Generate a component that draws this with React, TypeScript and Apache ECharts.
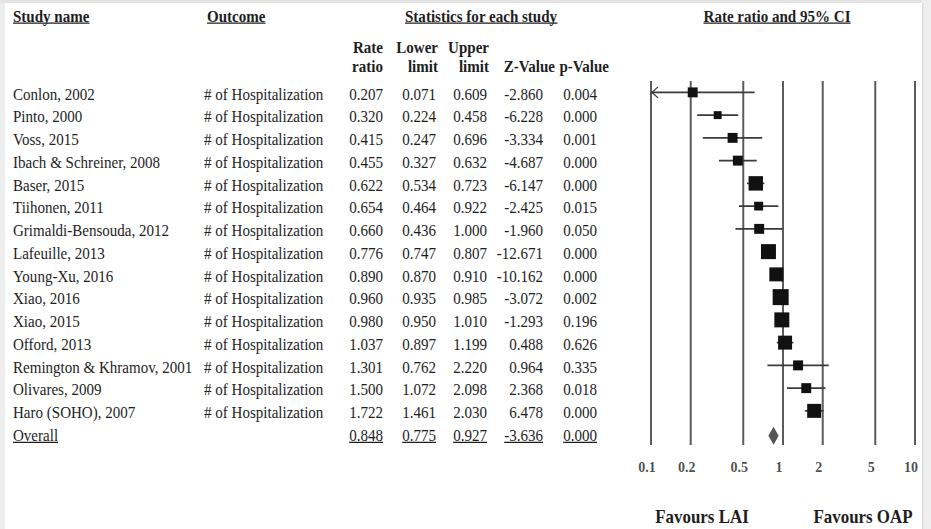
import React, { useEffect, useRef } from "react";
import * as echarts from "echarts";

// Forest plot: rate ratio of hospitalization, LAI vs OAP
const studies = [
  "Conlon, 2002",
  "Pinto, 2000",
  "Voss, 2015",
  "Ibach & Schreiner, 2008",
  "Baser, 2015",
  "Tiihonen, 2011",
  "Grimaldi-Bensouda, 2012",
  "Lafeuille, 2013",
  "Young-Xu, 2016",
  "Xiao, 2016",
  "Xiao, 2015",
  "Offord, 2013",
  "Remington & Khramov, 2001",
  "Olivares, 2009",
  "Haro (SOHO), 2007",
];
const outcome = "# of Hospitalization";
const rateRatio = [0.207, 0.32, 0.415, 0.455, 0.622, 0.654, 0.66, 0.776, 0.89, 0.96, 0.98, 1.037, 1.301, 1.5, 1.722];
const lowerLimit = [0.071, 0.224, 0.247, 0.327, 0.534, 0.464, 0.436, 0.747, 0.87, 0.935, 0.95, 0.897, 0.762, 1.072, 1.461];
const upperLimit = [0.609, 0.458, 0.696, 0.632, 0.723, 0.922, 1.0, 0.807, 0.91, 0.985, 1.01, 1.199, 2.22, 2.098, 2.03];
const zValue = [-2.86, -6.228, -3.334, -4.687, -6.147, -2.425, -1.96, -12.671, -10.162, -3.072, -1.293, 0.488, 0.964, 2.368, 6.478];
const pValue = [0.004, 0.0, 0.001, 0.0, 0.0, 0.015, 0.05, 0.0, 0.0, 0.002, 0.196, 0.626, 0.335, 0.018, 0.0];
// relative study weights (%), square area is proportional to weight
const weights = [4.4, 2.8, 4.4, 4.4, 9.3, 3.6, 4.4, 10.0, 8.7, 11.4, 10.0, 8.7, 4.4, 4.4, 8.7];
const overallLabel = "Overall";
const overallRate = 0.848;
const overallLower = 0.775;
const overallUpper = 0.927;
const overallZ = -3.636;
const overallP = 0.0;
const tickValues = [0.1, 0.2, 0.5, 1, 2, 5, 10];
const tickLabels = ["0.1", "0.2", "0.5", "1", "2", "5", "10"];

const FONT = "'Liberation Serif', 'Times New Roman', serif";
const INK = "#1e1e1e";
// the table typeface is set slightly condensed
const CONDENSE = 0.94;

function measure(text: string, size: number, weight: string) {
  const ctx = document.createElement("canvas").getContext("2d")!;
  ctx.font = `${weight} ${size}px ${FONT}`;
  return ctx.measureText(text).width;
}

type TextOpts = { align?: string; bold?: boolean; size?: number; underline?: boolean };

function textEl(text: string, x: number, y: number, o: TextOpts = {}) {
  const size = o.size ?? 16;
  const weight = o.bold ? "bold" : "normal";
  const align = o.align ?? "left";
  const els: any[] = [
    {
      type: "text",
      x,
      y,
      scaleX: CONDENSE,
      silent: true,
      style: {
        text,
        fill: INK,
        fontFamily: FONT,
        fontSize: size,
        fontWeight: weight,
        align,
        verticalAlign: "middle",
      },
    },
  ];
  if (o.underline) {
    const w = measure(text, size, weight) * CONDENSE;
    const x1 = align === "right" ? x - w : align === "center" ? x - w / 2 : x;
    const uy = y + size * 0.45;
    els.push({
      type: "line",
      silent: true,
      shape: { x1, y1: uy, x2: x1 + w, y2: uy },
      style: { stroke: INK, lineWidth: 1.2 },
    });
  }
  return els;
}

export default function App() {
  const ref = useRef<HTMLDivElement>(null);

  useEffect(() => {
    const chart = echarts.init(ref.current!, null, { renderer: "svg" });
    const rowNames = [...studies, overallLabel];
    const overallRow = studies.length;

    chart.setOption({
      animation: false,
      backgroundColor: "#ffffff",
      grid: [
        { left: 651, right: 16, top: 81, height: 364 },
        { left: 651, right: 16, top: 458, height: 18 },
      ],
      xAxis: [
        { type: "log", gridIndex: 0, logBase: 10, min: 0.1, max: 10, show: false },
        { type: "log", gridIndex: 1, logBase: 10, min: 0.1, max: 10, show: false },
      ],
      yAxis: [
        { type: "category", gridIndex: 0, data: rowNames, inverse: true, show: false },
        { type: "value", gridIndex: 1, min: 0, max: 1, show: false },
      ],
      series: [
        {
          // reference lines at each tick value
          type: "custom",
          xAxisIndex: 0,
          yAxisIndex: 0,
          silent: true,
          data: tickValues.map((v) => [v, 0]),
          renderItem: (params: any, api: any) => {
            const x = api.coord([api.value(0), 0])[0];
            const cs = params.coordSys;
            return {
              type: "line",
              shape: { x1: x, y1: cs.y, x2: x, y2: cs.y + cs.height },
              style: { stroke: "#5c5c5c", lineWidth: 2 },
            };
          },
        },
        {
          // study estimates with 95% CI
          type: "custom",
          xAxisIndex: 0,
          yAxisIndex: 0,
          silent: true,
          data: studies.map((_, i) => [rateRatio[i], i, lowerLimit[i], upperLimit[i], weights[i]]),
          renderItem: (params: any, api: any) => {
            const row = api.value(1);
            const est = api.value(0);
            const lo = api.value(2);
            const hi = api.value(3);
            const w = api.value(4);
            const [xe, y] = api.coord([est, row]);
            const xMin = api.coord([0.1, row])[0];
            const xLo = lo < 0.1 ? xMin : api.coord([lo, row])[0];
            const xHi = api.coord([hi, row])[0];
            const side = 4.74 * Math.sqrt(w);
            const children: any[] = [
              {
                type: "line",
                shape: { x1: xLo, y1: y, x2: xHi, y2: y },
                style: { stroke: "#3a3a3a", lineWidth: 1.6 },
              },
              {
                type: "rect",
                shape: { x: xe - side / 2, y: y - side / 2, width: side, height: side },
                style: { fill: "#111111" },
              },
            ];
            if (lo < 0.1) {
              children.push({
                type: "polyline",
                shape: { points: [[xMin + 7, y - 5.5], [xMin + 1, y], [xMin + 7, y + 5.5]] },
                style: { stroke: "#3a3a3a", lineWidth: 1.3, fill: "none" },
              });
            }
            return { type: "group", children };
          },
        },
        {
          // pooled estimate
          type: "custom",
          xAxisIndex: 0,
          yAxisIndex: 0,
          silent: true,
          data: [[overallRate, overallRow, overallLower, overallUpper]],
          renderItem: (params: any, api: any) => {
            const [xe, y0] = api.coord([api.value(0), api.value(1)]);
            const y = y0 + 2;
            const xLo = api.coord([api.value(2), api.value(1)])[0];
            const xHi = api.coord([api.value(3), api.value(1)])[0];
            const h = 9;
            return {
              type: "polygon",
              shape: { points: [[xLo, y], [xe, y - h], [xHi, y], [xe, y + h]] },
              style: { fill: "#555555" },
            };
          },
        },
        {
          // tick labels under the plot
          type: "scatter",
          xAxisIndex: 1,
          yAxisIndex: 1,
          silent: true,
          symbolSize: 1,
          itemStyle: { color: "rgba(0,0,0,0)" },
          data: tickValues.map((v, i) => ({ value: [v, 0.5], name: tickLabels[i] })),
          label: {
            show: true,
            position: "inside",
            offset: [-4, 0],
            formatter: (p: any) => p.name,
            fontFamily: FONT,
            fontWeight: "bold",
            fontSize: 14,
            color: INK,
          },
        },
      ],
    });

    // table text, aligned to the rows of the category axis
    const rowY = (i: number) => {
      const p = chart.convertToPixel({ yAxisIndex: 0 } as any, i as any) as any;
      return (typeof p === "number" ? p : 81 + (364 / 16) * (i + 0.5)) + 1.5;
    };

    const els: any[] = [];
    // page frame shading
    els.push({ type: "rect", shape: { x: 0, y: 0, width: 5, height: 529 }, style: { fill: "#ededed" }, silent: true });
    els.push({ type: "rect", shape: { x: 0, y: 0, width: 923, height: 3 }, style: { fill: "#e4e4e4" }, silent: true });
    els.push({ type: "rect", shape: { x: 922, y: 0, width: 9, height: 529 }, style: { fill: "#efefef" }, silent: true });
    els.push({ type: "rect", shape: { x: 922, y: 3, width: 1.5, height: 526 }, style: { fill: "#dcdcdc" }, silent: true });

    els.push(...textEl("Study name", 13, 16, { bold: true, underline: true }));
    els.push(...textEl("Outcome", 207, 16, { bold: true, underline: true }));
    els.push(...textEl("Statistics for each study", 405, 16, { bold: true, underline: true }));
    els.push(...textEl("Rate ratio and 95% CI", 777, 16, { bold: true, underline: true, align: "center" }));

    const colRight = { rate: 383, lower: 436, upper: 487, z: 543, p: 597 };
    els.push(...textEl("Rate", colRight.rate, 47, { bold: true, align: "right" }));
    els.push(...textEl("ratio", colRight.rate, 66, { bold: true, align: "right" }));
    els.push(...textEl("Lower", colRight.lower + 2, 47, { bold: true, align: "right" }));
    els.push(...textEl("limit", colRight.lower + 2, 66, { bold: true, align: "right" }));
    els.push(...textEl("Upper", colRight.upper + 2, 47, { bold: true, align: "right" }));
    els.push(...textEl("limit", colRight.upper + 2, 66, { bold: true, align: "right" }));
    els.push(...textEl("Z-Value", 555, 66, { bold: true, align: "right" }));
    els.push(...textEl("p-Value", 609, 66, { bold: true, align: "right" }));

    studies.forEach((s, i) => {
      const y = rowY(i);
      els.push(...textEl(s, 13, y));
      els.push(...textEl(outcome, 204, y));
      els.push(...textEl(rateRatio[i].toFixed(3), colRight.rate, y, { align: "right" }));
      els.push(...textEl(lowerLimit[i].toFixed(3), colRight.lower, y, { align: "right" }));
      els.push(...textEl(upperLimit[i].toFixed(3), colRight.upper, y, { align: "right" }));
      els.push(...textEl(zValue[i].toFixed(3), colRight.z, y, { align: "right" }));
      els.push(...textEl(pValue[i].toFixed(3), colRight.p, y, { align: "right" }));
    });

    const oy = rowY(overallRow);
    els.push(...textEl(overallLabel, 13, oy, { underline: true }));
    els.push(...textEl(overallRate.toFixed(3), colRight.rate, oy, { align: "right", underline: true }));
    els.push(...textEl(overallLower.toFixed(3), colRight.lower, oy, { align: "right", underline: true }));
    els.push(...textEl(overallUpper.toFixed(3), colRight.upper, oy, { align: "right", underline: true }));
    els.push(...textEl(overallZ.toFixed(3), colRight.z, oy, { align: "right", underline: true }));
    els.push(...textEl(overallP.toFixed(3), colRight.p, oy, { align: "right", underline: true }));

    els.push(...textEl("Favours LAI", 702, 517, { bold: true, size: 18, align: "center" }));
    els.push(...textEl("Favours OAP", 863, 517, { bold: true, size: 18, align: "center" }));

    chart.setOption({ graphic: { elements: els } });

    return () => chart.dispose();
  }, []);

  return (
    <div
      ref={ref}
      style={{ position: "absolute", left: 0, top: 0, width: 931, height: 529, background: "#ffffff" }}
    />
  );
}
